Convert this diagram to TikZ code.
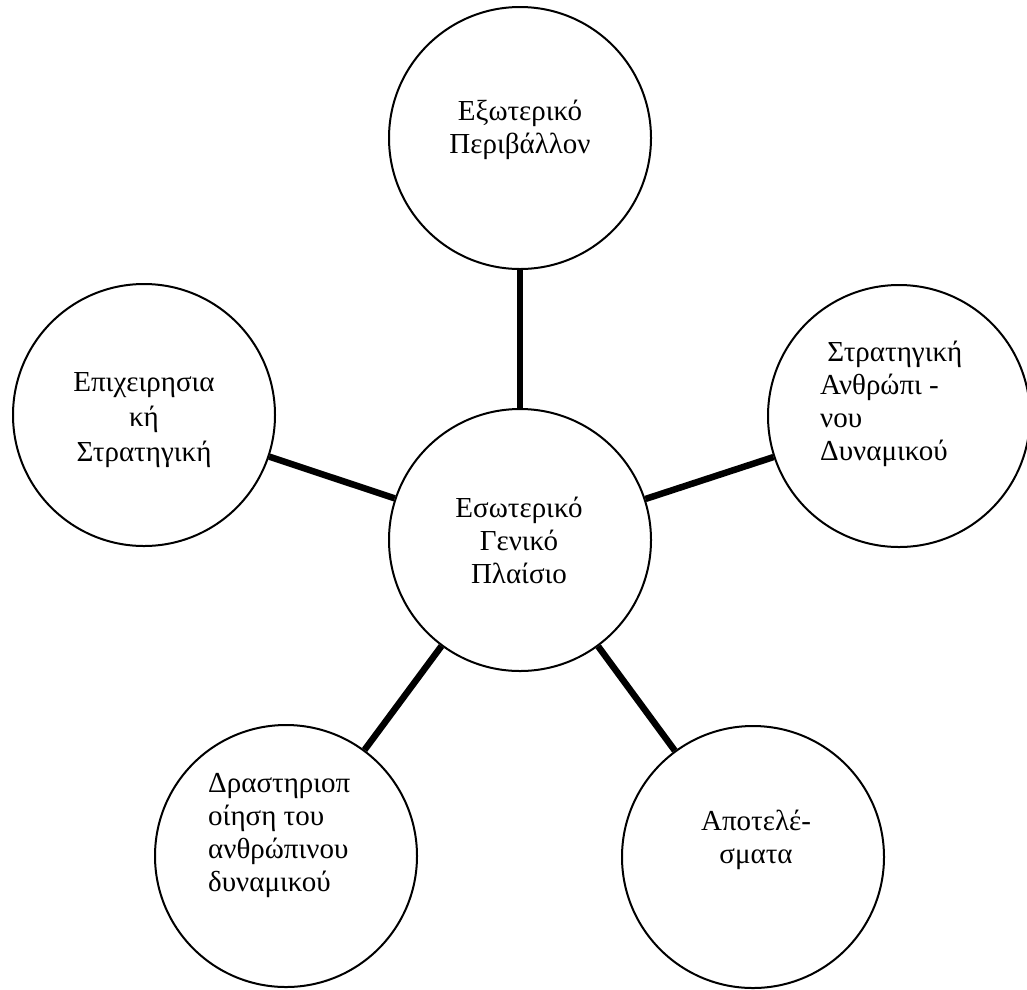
\documentclass[tikz,border=0pt]{standalone}
\usepackage{fontspec}
\setmainfont{Liberation Serif}
\begin{document}
\begin{tikzpicture}[x=1pt,y=1pt,
  bub/.style={circle,draw,line width=2pt,minimum size=262pt,inner sep=0pt},
  link/.style={line width=6.5pt},
  lbl/.style={font=\fontsize{29}{33}\selectfont,align=center,inner sep=0pt},
  lbll/.style={font=\fontsize{29}{33}\selectfont,align=left,inner sep=0pt,anchor=west}]
\useasboundingbox (0,0) rectangle (1027,-989);
\node[bub] (top) at (520,-138) {};
\node[bub] (left) at (144,-415) {};
\node[bub] (right) at (899,-416) {};
\node[bub] (mid) at (520,-540) {};
\node[bub] (bl) at (286,-856) {};
\node[bub] (br) at (753,-857) {};
\draw[link] (mid) -- (top);
\draw[link] (mid) -- (left);
\draw[link] (mid) -- (right);
\draw[link] (mid) -- (bl);
\draw[link] (mid) -- (br);
\node[lbl] (ttop) at (520,-130) {Εξωτερικό\\Περιβάλλον};
\node[lbl] (tleft) at (144,-420) {Επιχειρησια\\[2pt]κή\\[2pt]Στρατηγική};
\node[lbll] (tright) at (820,-404) {\hspace*{0.25em}Στρατηγική\\Ανθρώπι -\\νου\\Δυναμικού};
\node[lbl] (tmid) at (519,-540) {Εσωτερικό\\Γενικό\\Πλαίσιο};
\node[lbll] (tbl) at (208,-836) {Δραστηριοπ\\οίηση του\\ανθρώπινου\\δυναμικού};
\node[lbl] (tbr) at (756,-840) {Αποτελέ-\\σματα};
\end{tikzpicture}
\end{document}
